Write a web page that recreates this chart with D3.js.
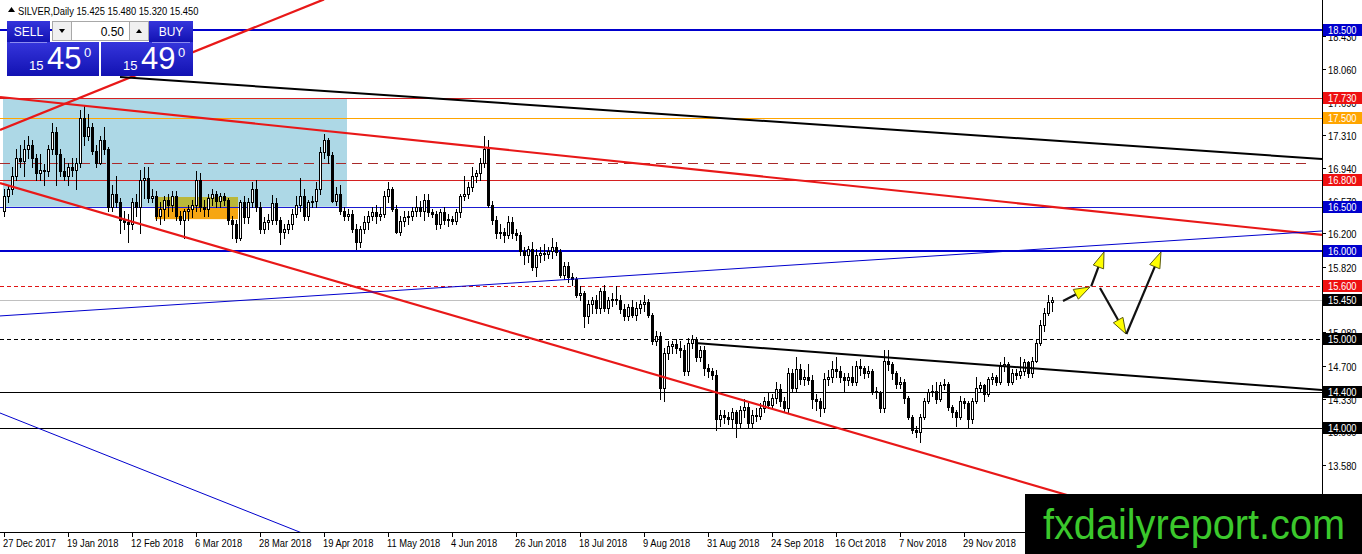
<!DOCTYPE html>
<html>
<head>
<meta charset="utf-8">
<script src="https://d3js.org/d3.v7.min.js"></script>
<style>
body{margin:0;background:#fff;overflow:hidden;}
svg{display:block;}
</style>
</head>
<body>
<div id="chart"></div>
<script>
// ---- data ----
const symbolTitle = "SILVER,Daily";
const lastQuote = [15.425, 15.480, 15.320, 15.450];   // O H L C of last bar
const bidPrice = 15.450, askPrice = 15.490, lotSize = "0.50";
const firstOpen = 16.45;

const closes = [
16.62,16.70,16.85,17.05,17.02,17.15,17.20,17.05,16.88,16.92,
16.90,17.15,17.35,17.10,16.90,16.85,16.95,16.92,17.00,17.50,
17.30,17.40,17.13,17.00,17.25,17.15,16.50,16.65,16.55,16.35,
16.33,16.30,16.55,16.50,16.80,16.82,16.60,16.62,16.40,16.48,
16.58,16.52,16.62,16.40,16.35,16.45,16.48,16.52,16.80,16.50,
16.48,16.60,16.65,16.56,16.62,16.58,16.35,16.30,16.15,16.55,
16.38,16.55,16.70,16.50,16.25,16.33,16.35,16.54,16.35,16.22,
16.25,16.30,16.42,16.52,16.62,16.40,16.55,16.56,16.70,17.12,
17.25,17.08,16.57,16.65,16.45,16.40,16.42,16.25,16.10,16.25,
16.33,16.40,16.44,16.40,16.42,16.62,16.70,16.48,16.22,16.34,
16.38,16.40,16.45,16.50,16.45,16.58,16.44,16.42,16.30,16.44,
16.35,16.36,16.34,16.44,16.62,16.65,16.72,16.85,16.88,17.00,
17.15,16.52,16.35,16.20,16.22,16.18,16.33,16.20,16.18,16.00,
15.95,16.02,15.82,15.95,15.98,15.97,16.00,16.04,15.99,15.73,
15.83,15.70,15.68,15.50,15.52,15.27,15.40,15.45,15.35,15.55,
15.36,15.44,15.46,15.45,15.34,15.27,15.37,15.28,15.36,15.40,
15.42,15.28,14.98,15.04,14.45,14.85,14.92,14.95,14.90,14.88,
14.64,14.96,15.00,14.80,14.88,14.68,14.64,14.60,14.10,14.14,
14.12,14.10,14.18,14.05,14.20,14.24,14.05,14.15,14.13,14.22,
14.30,14.26,14.34,14.44,14.30,14.22,14.62,14.45,14.66,14.55,
14.58,14.54,14.32,14.30,14.22,14.55,14.57,14.66,14.64,14.58,
14.54,14.58,14.52,14.70,14.68,14.62,14.64,14.42,14.40,14.22,
14.75,14.72,14.62,14.50,14.52,14.34,14.12,13.98,13.95,14.12,
14.30,14.40,14.42,14.32,14.48,14.50,14.24,14.18,14.12,14.30,
14.28,14.10,14.30,14.45,14.48,14.38,14.55,14.58,14.52,14.70,
14.72,14.52,14.62,14.60,14.64,14.74,14.62,14.76,14.96,15.16,
15.30,15.425,15.45
];
const highs = [
16.70,16.75,16.95,17.15,17.20,17.25,17.30,17.25,17.10,17.10,
16.98,17.20,17.45,17.40,17.15,17.05,17.00,17.05,17.05,17.60,
17.65,17.55,17.45,17.20,17.30,17.40,17.18,16.75,16.85,16.60,
16.45,16.42,16.60,16.65,16.92,16.95,16.95,16.70,16.68,16.55,
16.62,16.65,16.68,16.68,16.45,16.48,16.52,16.58,16.90,16.88,
16.58,16.65,16.70,16.68,16.66,16.66,16.60,16.40,16.35,16.58,
16.62,16.60,16.78,16.80,16.55,16.38,16.42,16.63,16.60,16.38,
16.30,16.35,16.48,16.62,16.82,16.70,16.58,16.62,16.78,17.18,
17.32,17.28,17.12,16.72,16.75,16.50,16.48,16.46,16.30,16.28,
16.40,16.45,16.50,16.52,16.50,16.68,16.78,16.72,16.52,16.40,
16.45,16.45,16.50,16.62,16.56,16.65,16.64,16.48,16.45,16.48,
16.50,16.42,16.40,16.48,16.65,16.85,16.78,16.95,16.92,17.05,
17.30,17.25,16.56,16.40,16.30,16.26,16.40,16.38,16.25,16.22,
16.05,16.06,16.10,16.02,16.05,16.08,16.04,16.15,16.10,16.02,
15.88,15.88,15.75,15.70,15.60,15.55,15.45,15.48,15.50,15.58,
15.62,15.48,15.52,15.60,15.50,15.40,15.40,15.45,15.42,15.45,
15.50,15.46,15.30,15.10,15.08,14.90,14.98,14.98,15.00,14.98,
14.94,15.02,15.05,15.03,14.92,14.92,14.72,14.68,14.65,14.20,
14.20,14.18,14.22,14.20,14.25,14.33,14.28,14.20,14.22,14.28,
14.35,14.40,14.38,14.52,14.50,14.35,14.68,14.66,14.80,14.72,
14.65,14.72,14.60,14.38,14.34,14.62,14.65,14.75,14.80,14.70,
14.62,14.62,14.70,14.75,14.78,14.70,14.70,14.66,14.46,14.42,
14.88,14.88,14.74,14.64,14.58,14.55,14.36,14.14,14.02,14.16,
14.34,14.44,14.48,14.52,14.52,14.55,14.52,14.26,14.20,14.36,
14.34,14.30,14.34,14.58,14.52,14.50,14.58,14.62,14.60,14.74,
14.80,14.74,14.66,14.66,14.80,14.78,14.76,14.80,15.00,15.22,
15.36,15.50,15.48
];
const lows = [
16.40,16.55,16.65,16.80,16.95,16.85,17.05,16.95,16.80,16.80,
16.75,16.85,17.10,16.75,16.85,16.80,16.75,16.85,16.70,16.95,
17.20,17.25,17.10,16.95,16.98,17.10,16.45,16.45,16.50,16.20,
16.25,16.10,16.25,16.40,16.20,16.60,16.55,16.55,16.35,16.30,
16.35,16.40,16.45,16.35,16.30,16.15,16.35,16.38,16.45,16.45,
16.40,16.40,16.52,16.50,16.50,16.52,16.30,16.15,16.10,16.12,
16.32,16.32,16.50,16.45,16.20,16.20,16.25,16.30,16.30,16.08,
16.15,16.20,16.25,16.38,16.45,16.35,16.35,16.50,16.50,16.65,
17.05,17.00,16.55,16.52,16.42,16.35,16.35,16.22,16.02,16.05,
16.20,16.25,16.35,16.32,16.35,16.38,16.55,16.45,16.20,16.18,
16.28,16.30,16.35,16.40,16.40,16.35,16.40,16.38,16.25,16.26,
16.30,16.28,16.30,16.30,16.38,16.58,16.60,16.68,16.78,16.80,
16.95,16.50,16.30,16.15,16.15,16.10,16.15,16.15,16.12,15.95,
15.85,15.88,15.78,15.72,15.88,15.90,15.92,15.92,15.95,15.70,
15.68,15.65,15.62,15.48,15.45,15.14,15.18,15.30,15.30,15.30,
15.32,15.30,15.38,15.40,15.30,15.22,15.22,15.25,15.22,15.30,
15.32,15.25,14.95,14.94,14.33,14.30,14.78,14.85,14.85,14.80,
14.60,14.60,14.90,14.75,14.75,14.60,14.58,14.55,13.98,14.02,
14.05,14.04,14.00,13.90,14.00,14.12,14.00,14.00,14.08,14.10,
14.18,14.22,14.22,14.28,14.25,14.18,14.18,14.40,14.40,14.50,
14.48,14.50,14.22,14.20,14.13,14.18,14.48,14.52,14.58,14.52,
14.40,14.48,14.48,14.48,14.60,14.56,14.58,14.38,14.34,14.18,
14.18,14.65,14.55,14.45,14.45,14.28,14.10,13.94,13.90,13.84,
14.10,14.28,14.36,14.28,14.30,14.44,14.20,14.12,14.02,14.10,
14.22,14.00,14.05,14.28,14.40,14.30,14.36,14.50,14.48,14.50,
14.64,14.48,14.50,14.55,14.56,14.60,14.58,14.58,14.74,14.94,
15.10,15.28,15.32
];

const dateLabels = ["27 Dec 2017","19 Jan 2018","12 Feb 2018","6 Mar 2018","28 Mar 2018",
  "19 Apr 2018","11 May 2018","4 Jun 2018","26 Jun 2018","18 Jul 2018","9 Aug 2018",
  "31 Aug 2018","24 Sep 2018","16 Oct 2018","7 Nov 2018","29 Nov 2018"];
const barsPerDateLabel = 16;

const priceTicks = [18.430,18.060,17.690,17.310,16.940,16.570,16.200,15.820,15.450,
  15.080,14.700,14.330,13.960,13.580,13.210,12.840];

// horizontal levels (price) with a label box on the axis
const levelPrices = [18.5, 17.73, 17.5, 16.8, 16.5, 16.0, 15.6, 15.45, 15.0, 14.4, 14.0];
const unlabelledLevel = 17.00;

// trend lines: [bar, price, bar, price]
const trendLines = [
  [-1, 17.742, 329.5, 16.181],
  [-1, 16.769, 300, 12.786],
  [-1, 17.369, 80, 18.846],
  [29, 17.968, 329.5, 17.041],
  [172.75, 14.959, 329.5, 14.428],
  [-1, 15.265, 329.5, 16.226],
  [-1, 14.167, 80, 12.711]
];

// zones: [bar from, bar to, price low, price high]
const zoneBlue = [-0.25, 85.75, 16.5, 17.73];
const zoneOrange = [37.75, 58.5, 16.36, 16.61];

// projected path arrows: [bar, price, bar, price]
const arrowSegs = [
  [264.75, 15.434, 271.5, 15.593],
  [271.8, 15.60, 275, 15.989],
  [274, 15.581, 280.5, 15.061],
  [280.6, 15.061, 289.25, 15.989]
];

const watermark = "fxdailyreport.com";

// ---- drawing ----
const W = 1362, H = 554, plotRight = 1322, plotBottom = 532;
const uiFont = "'Liberation Sans',Arial,sans-serif";

const svg = d3.select('#chart').append('svg')
  .attr('width', W).attr('height', H)
  .style('background', '#fff');

const x = d3.scaleLinear().domain([-1, 329.5]).range([0, plotRight]);
const y = d3.scaleLinear().domain([12.821, 18.839]).range([plotBottom, 0]);

// narrow (Tahoma-like) small text
function smallText(parent, tx, ty, str, fill){
  return parent.append('text')
    .attr('transform', 'translate(' + tx + ',' + ty + ') scale(0.85,1)')
    .attr('font-family', uiFont).attr('font-size', 11)
    .attr('fill', fill).text(str);
}

const defs = svg.append('defs');
defs.append('clipPath').attr('id', 'plotclip')
  .append('rect').attr('x', 0).attr('y', 0).attr('width', plotRight).attr('height', plotBottom);
let grad = defs.append('linearGradient').attr('id', 'btn').attr('x1', 0).attr('y1', 0).attr('x2', 0).attr('y2', 1);
grad.append('stop').attr('offset', '0%').attr('stop-color', '#3535dc');
grad.append('stop').attr('offset', '100%').attr('stop-color', '#1212b2');

const g = svg.append('g').attr('clip-path', 'url(#plotclip)');

function zoneRect(z, fill){
  g.append('rect')
    .attr('x', x(z[0])).attr('width', x(z[1]) - x(z[0]))
    .attr('y', y(z[3])).attr('height', y(z[2]) - y(z[3]))
    .attr('fill', fill);
}
zoneRect(zoneBlue, '#add8e6');
zoneRect(zoneOrange, '#f6a612');
let overlap = [Math.max(zoneBlue[0], zoneOrange[0]), Math.min(zoneBlue[1], zoneOrange[1]),
               Math.max(zoneBlue[2], zoneOrange[2]), Math.min(zoneBlue[3], zoneOrange[3])];
zoneRect(overlap, '#b9b83a');

// level line styles, same order as levelPrices
const levelStyle = [
  {c:'#0000cd', w:2, box:'#0000cd'},
  {c:'#d42020', w:1, box:'#ee1111'},
  {c:'#ffa500', w:1, box:'#ffa500'},
  {c:'#d42020', w:1, box:'#ee1111'},
  {c:'#1a1ad0', w:1, box:'#0000cd'},
  {c:'#0000cd', w:2, box:'#0000cd'},
  {c:'#e01414', w:1, box:'#ee1111', dash:'4,3'},
  {c:'#c0c0c0', w:1, box:'#000'},
  {c:'#000', w:1, box:'#000', dash:'4,3'},
  {c:'#000', w:1, box:'#000'},
  {c:'#000', w:1, box:'#000'}
];
function levelY(p, w){ return w === 2 ? Math.round(y(p)) : Math.round(y(p)) + 0.5; }

g.append('line')
  .attr('x1', 0).attr('x2', plotRight - 10)
  .attr('y1', levelY(unlabelledLevel, 1)).attr('y2', levelY(unlabelledLevel, 1))
  .attr('stroke', '#a82a2a').attr('stroke-dasharray', '10,6');

g.selectAll('line.level').data(levelPrices).join('line')
  .attr('class', 'level')
  .attr('x1', 0).attr('x2', plotRight)
  .attr('y1', (d,i) => levelY(d, levelStyle[i].w))
  .attr('y2', (d,i) => levelY(d, levelStyle[i].w))
  .attr('stroke', (d,i) => levelStyle[i].c)
  .attr('stroke-width', (d,i) => levelStyle[i].w)
  .attr('stroke-dasharray', (d,i) => levelStyle[i].dash || null);

// candles
const candles = closes.map((c, i) => ({
  i: i, o: i ? closes[i-1] : firstOpen, h: highs[i], l: lows[i], c: c
}));
candles[candles.length - 1].o = lastQuote[0];

const cg = g.append('g');
candles.forEach(function(d){
  let xc = Math.round(x(d.i));
  let top = Math.round(y(Math.max(d.o, d.c)));
  let bot = Math.round(y(Math.min(d.o, d.c)));
  let hi = Math.round(y(Math.max(d.h, d.o, d.c)));
  let lo = Math.round(y(Math.min(d.l, d.o, d.c)));
  cg.append('rect').attr('x', xc).attr('y', hi).attr('width', 1).attr('height', Math.max(1, lo - hi + 1)).attr('fill', '#000');
  let bh = Math.max(1, bot - top + 1);
  cg.append('rect').attr('x', xc - 1).attr('y', top).attr('width', 3).attr('height', bh).attr('fill', '#000');
  if (d.c > d.o && bh > 2) {
    cg.append('rect').attr('x', xc).attr('y', top + 1).attr('width', 1).attr('height', bh - 2).attr('fill', '#fff');
  }
});

// trend lines
const trendStyle = [
  {c:'#e81818', w:2.2}, {c:'#e81818', w:2.2}, {c:'#e81818', w:2.2},
  {c:'#000', w:2}, {c:'#000', w:2},
  {c:'#0000cd', w:1}, {c:'#0000cd', w:1}
];
g.selectAll('line.trend').data(trendLines).join('line')
  .attr('class', 'trend')
  .attr('x1', d => x(d[0])).attr('y1', d => y(d[1]))
  .attr('x2', d => x(d[2])).attr('y2', d => y(d[3]))
  .attr('stroke', (d,i) => trendStyle[i].c)
  .attr('stroke-width', (d,i) => trendStyle[i].w);

// arrows
arrowSegs.forEach(function(a){
  let x0 = x(a[0]), y0 = y(a[1]), x1 = x(a[2]), y1 = y(a[3]);
  let dx = x1 - x0, dy = y1 - y0, len = Math.sqrt(dx*dx + dy*dy);
  let ux = dx / len, uy = dy / len;
  let headL = 16, headW = 5.5;
  let bx = x1 - ux * headL, by = y1 - uy * headL;
  g.append('line').attr('x1', x0).attr('y1', y0).attr('x2', bx + ux*2).attr('y2', by + uy*2)
    .attr('stroke', '#111').attr('stroke-width', 2.2);
  let pts = [[x1, y1], [bx - uy*headW, by + ux*headW], [bx + uy*headW, by - ux*headW]];
  g.append('polygon').attr('points', pts.map(p => p.join(',')).join(' '))
    .attr('fill', '#ffff00').attr('stroke', '#5a5a10').attr('stroke-width', 1);
});

// axes frame
svg.append('line').attr('x1', plotRight + 0.5).attr('x2', plotRight + 0.5).attr('y1', 0).attr('y2', plotBottom)
  .attr('stroke', '#000');
svg.append('line').attr('x1', 0).attr('x2', plotRight).attr('y1', plotBottom + 0.5).attr('y2', plotBottom + 0.5)
  .attr('stroke', '#000');

// price ticks
const ay = svg.append('g');
priceTicks.forEach(function(p){
  let py = Math.round(y(p)) + 0.5;
  ay.append('line').attr('x1', plotRight).attr('x2', plotRight + 4).attr('y1', py).attr('y2', py).attr('stroke', '#000');
  smallText(ay, plotRight + 6, py + 4, p.toFixed(3), '#000');
});

// level labels
levelPrices.forEach(function(p, i){
  let py = Math.round(y(p));
  ay.append('rect').attr('x', plotRight + 1).attr('y', py - 6).attr('width', W - plotRight - 1).attr('height', 12)
    .attr('fill', levelStyle[i].box);
  smallText(ay, plotRight + 6, py + 4, p.toFixed(3), '#fff');
});

// date axis
dateLabels.forEach(function(lab, k){
  let bx = Math.round(x(k * barsPerDateLabel)) + 0.5;
  svg.append('line').attr('x1', bx).attr('x2', bx).attr('y1', plotBottom).attr('y2', plotBottom + 5).attr('stroke', '#000');
  smallText(svg, bx - 1.5, plotBottom + 15, lab, '#000');
});

// header
svg.append('path').attr('d', 'M8,12 L11.5,7 L15,12 Z').attr('fill', '#000');
smallText(svg, 18, 15, symbolTitle + '  ' + lastQuote.map(v => v.toFixed(3)).join(' '), '#000');

// one-click trading panel
const panel = svg.append('g');
function priceParts(v){
  let s = v.toFixed(3);
  return [s.slice(0, 2), s.slice(3, 5), s.slice(5)];
}
function priceBox(x0, w, v){
  panel.append('rect').attr('x', x0).attr('y', 42).attr('width', w).attr('height', 34).attr('fill', 'url(#btn)');
  let pp = priceParts(v);
  panel.append('text').attr('x', x0 + 22).attr('y', 70).attr('font-family', uiFont)
    .attr('font-size', 13).attr('fill', '#fff').text(pp[0]);
  panel.append('text').attr('x', x0 + 40).attr('y', 69).attr('font-family', uiFont)
    .attr('font-size', 31).attr('fill', '#fff').text(pp[1]);
  panel.append('text').attr('x', x0 + 77).attr('y', 57).attr('font-family', uiFont)
    .attr('font-size', 13).attr('fill', '#fff').text(pp[2]);
}
function button(x0, w, label){
  panel.append('rect').attr('x', x0).attr('y', 21).attr('width', w).attr('height', 21).attr('fill', 'url(#btn)');
  panel.append('line').attr('x1', x0 + 3).attr('x2', x0 + w - 3).attr('y1', 42.5).attr('y2', 42.5)
    .attr('stroke', '#8c8cf0').attr('stroke-width', 1);
  panel.append('text').attr('x', x0 + w / 2).attr('y', 36).attr('text-anchor', 'middle')
    .attr('font-family', uiFont).attr('font-size', 12).attr('fill', '#fff').text(label);
}
priceBox(7, 92, bidPrice);
priceBox(101, 92, askPrice);
button(7, 43, 'SELL');
button(149, 44, 'BUY');
panel.append('rect').attr('x', 52.5).attr('y', 21.5).attr('width', 19).attr('height', 19).attr('fill', '#f0f0f0').attr('stroke', '#a8a8a8');
panel.append('rect').attr('x', 71.5).attr('y', 21.5).attr('width', 58).attr('height', 19).attr('fill', '#fff').attr('stroke', '#a8a8a8');
panel.append('rect').attr('x', 129.5).attr('y', 21.5).attr('width', 19).attr('height', 19).attr('fill', '#f0f0f0').attr('stroke', '#a8a8a8');
panel.append('path').attr('d', 'M59,29 L65,29 L62,33 Z').attr('fill', '#000');
panel.append('path').attr('d', 'M136,33 L142,33 L139,29 Z').attr('fill', '#000');
panel.append('text').attr('x', 124).attr('y', 36).attr('text-anchor', 'end')
  .attr('font-family', uiFont).attr('font-size', 12).attr('fill', '#000').text(lotSize);

// watermark
svg.append('rect').attr('x', 1025).attr('y', 494).attr('width', W - 1025).attr('height', H - 494).attr('fill', '#000');
svg.append('text').attr('x', 1043).attr('y', 539)
  .attr('font-family', uiFont).attr('font-size', 42)
  .attr('textLength', 302).attr('lengthAdjust', 'spacingAndGlyphs')
  .attr('fill', '#3bc82c').text(watermark);
</script>
</body>
</html>
